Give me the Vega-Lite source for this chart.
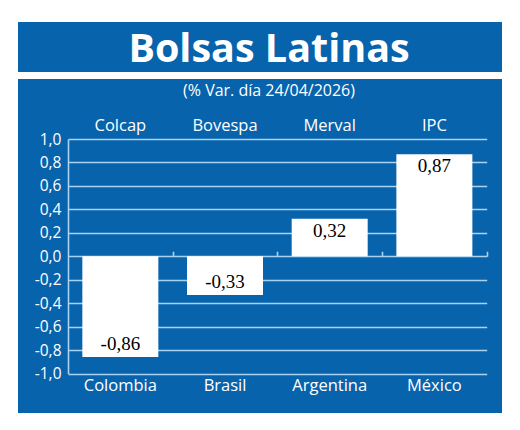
{
  "$schema": "https://vega.github.io/schema/vega-lite/v6.json",
  "background": "white",
  "padding": {"left": 18, "top": 22, "right": 18, "bottom": 17},
  "spacing": 7,
  "config": {
    "view": {"stroke": null},
    "font": "Open Sans",
    "locale": {
      "number": {"decimal": ",", "thousands": ".", "grouping": [3], "currency": ["", " €"], "minus": "-"}
    }
  },
  "vconcat": [
    {
      "width": 484,
      "height": 50,
      "view": {"fill": "#0863ad", "stroke": null},
      "data": {"values": [{"titulo": "Bolsas Latinas"}]},
      "mark": {"type": "text", "font": "Open Sans", "fontWeight": "bold", "fontSize": 39.5, "color": "white", "baseline": "alphabetic", "dy": 15, "dx": 9},
      "encoding": {"text": {"field": "titulo"}}
    },
    {
      "width": 484,
      "height": 334,
      "view": {"fill": "#0863ad", "stroke": null},
      "data": {
        "values": [
          {"pais": "Colombia", "indice": "Colcap", "valor": -0.86},
          {"pais": "Brasil", "indice": "Bovespa", "valor": -0.33},
          {"pais": "Argentina", "indice": "Merval", "valor": 0.32},
          {"pais": "México", "indice": "IPC", "valor": 0.87}
        ]
      },
      "layer": [
        {
          "mark": {"type": "bar", "color": "white"},
          "encoding": {
            "x": {
              "field": "pais", "type": "nominal", "sort": null,
              "scale": {"range": [50, 468.7], "paddingInner": 0.274, "paddingOuter": 0.137},
              "axis": {"orient": "bottom", "offset": -39.5, "domain": false, "ticks": false, "labelPadding": 4, "labelAngle": 0, "labelFont": "Open Sans", "labelFontSize": 16.5, "labelColor": "white", "title": null}
            },
            "y": {
              "field": "valor", "type": "quantitative",
              "scale": {"domain": [-1, 1], "range": [294.5, 60], "nice": false, "zero": false},
              "axis": {"orient": "left", "offset": -50, "values": [-1, -0.8, -0.6, -0.4, -0.2, 0, 0.2, 0.4, 0.6, 0.8, 1], "tickCount": 11, "format": ".1f", "labelOverlap": false, "grid": true, "gridColor": "#a9d3f2", "gridWidth": 1.6, "domain": true, "domainColor": "#a9d3f2", "domainWidth": 1.6, "ticks": false, "labelPadding": 7, "labelFont": "Open Sans", "labelFontSize": 15.5, "labelColor": "white", "title": null}
            }
          }
        },
        {
          "transform": [{"filter": "datum.valor > 0"}],
          "mark": {"type": "text", "font": "Liberation Serif", "fontSize": 19, "color": "black", "baseline": "alphabetic", "dy": 18},
          "encoding": {
            "x": {
              "field": "pais", "type": "nominal", "sort": null,
              "axis": {"orient": "top", "offset": -60, "domain": false, "ticks": false, "labelPadding": 6, "labelAngle": 0, "labelFont": "Open Sans", "labelFontSize": 16.5, "labelColor": "white", "title": null,
                "labelExpr": "datum.value == 'Colombia' ? 'Colcap' : datum.value == 'Brasil' ? 'Bovespa' : datum.value == 'Argentina' ? 'Merval' : 'IPC'"}
            },
            "y": {"field": "valor", "type": "quantitative"},
            "text": {"field": "valor", "type": "quantitative", "format": ".2f"}
          }
        },
        {
          "transform": [{"filter": "datum.valor < 0"}],
          "mark": {"type": "text", "font": "Liberation Serif", "fontSize": 19, "color": "black", "baseline": "alphabetic", "dy": -7},
          "encoding": {
            "x": {
              "field": "pais", "type": "nominal", "sort": null,
              "axis": {"orient": "bottom", "offset": -156.75, "domain": false, "ticks": true, "bandPosition": 0.5, "tickOffset": 52.35, "tickSize": -5, "tickWidth": 1.6, "tickColor": "#a9d3f2", "labels": false, "title": null}
            },
            "y": {"field": "valor", "type": "quantitative"},
            "text": {"field": "valor", "type": "quantitative", "format": ".2f"}
          }
        },
        {
          "data": {"values": [{"subtitulo": "(% Var. día 24/04/2026)"}]},
          "mark": {"type": "text", "font": "Open Sans", "fontSize": 16, "color": "white", "baseline": "alphabetic", "dx": 9},
          "encoding": {
            "y": {"datum": 1.367, "type": "quantitative"},
            "text": {"field": "subtitulo"}
          }
        }
      ],
      "resolve": {"axis": {"x": "independent"}}
    }
  ]
}
